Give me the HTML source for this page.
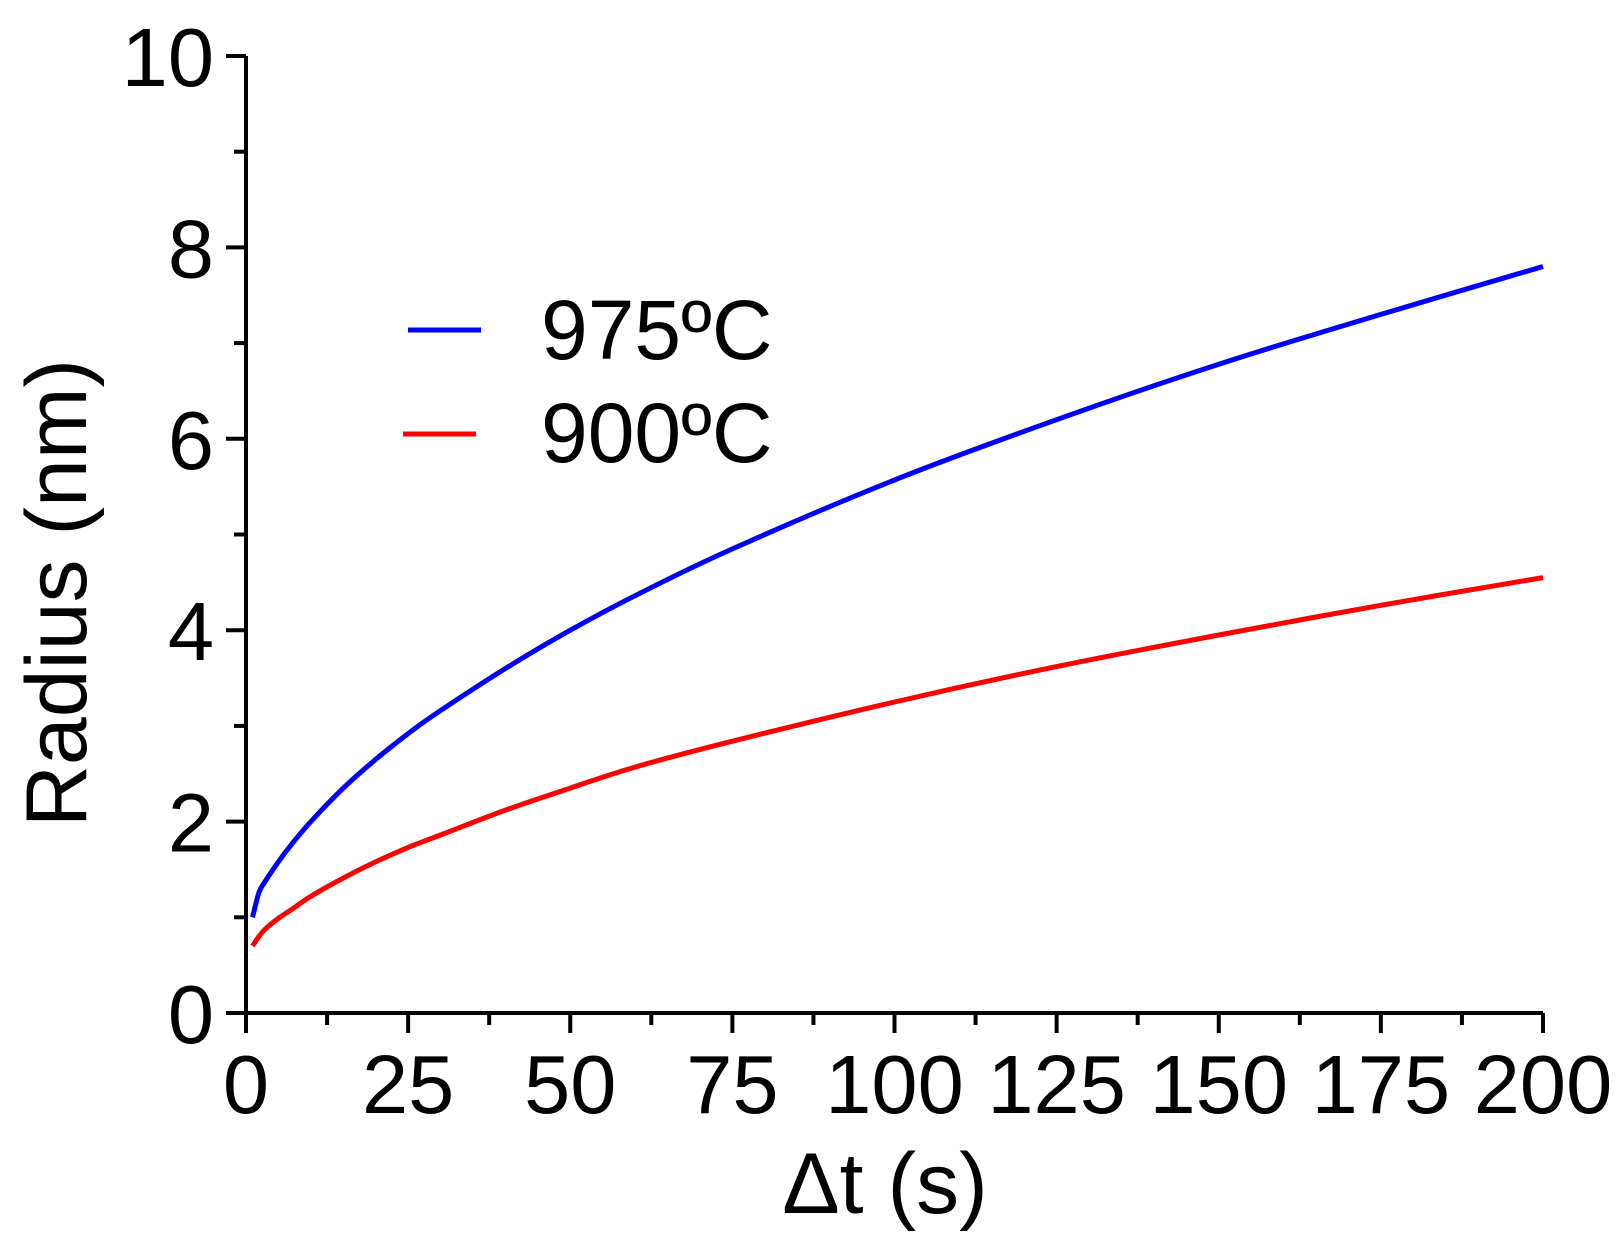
<!DOCTYPE html>
<html><head><meta charset="utf-8"><style>
html,body{margin:0;padding:0;background:#fff}
text{font-family:"Liberation Sans",Arial,sans-serif;fill:#000}
</style></head><body>
<svg id="chart" width="1621" height="1235" viewBox="0 0 1621 1235" xmlns="http://www.w3.org/2000/svg">
<g id="axes"></g>
<g id="series"></g>
<g id="legend">
<line x1="408" y1="330" x2="481" y2="330" stroke="#0000ff" stroke-width="5"/>
<text x="541" y="359" font-size="84">975ºC</text>
<line x1="403" y1="434" x2="476" y2="434" stroke="#ff0000" stroke-width="5"/>
<text x="541" y="462" font-size="84">900ºC</text>
</g>
<text x="885" y="1213" font-size="86" text-anchor="middle">Δt (s)</text>
<text transform="translate(86,593) rotate(-90)" font-size="86" text-anchor="middle">Radius (nm)</text>
</svg>
<script>
const times = [1,2,3,5,7,10,15,20,25,30,40,50,60,75,100,125,150,175,200];
const blue975 = [1.0,1.26,1.38,1.58,1.76,2.0,2.35,2.65,2.92,3.16,3.6,4.0,4.36,4.85,5.57,6.2,6.78,7.3,7.8];
const red900 = [0.7,0.8,0.88,0.99,1.08,1.22,1.41,1.58,1.73,1.86,2.12,2.35,2.57,2.84,3.25,3.62,3.95,4.26,4.55];
const xTicks = [0,25,50,75,100,125,150,175,200];
const yTicks = [0,2,4,6,8,10];

const X0=246,X1=1543,Y0=1013,Y1=56;
const xs=t=>X0+(t-0)/(200-0)*(X1-X0);
const ys=v=>Y0-(v-0)/(10-0)*(Y0-Y1);
const NS="http://www.w3.org/2000/svg";
function mk(tag,attrs,parent){const e=document.createElementNS(NS,tag);for(const k in attrs)e.setAttribute(k,attrs[k]);parent.appendChild(e);return e;}
const axes=document.getElementById('axes');
let p=mk('path',{d:`M${X0} ${Y1} L${X0} ${Y0} L${X1} ${Y0}`,fill:'none',stroke:'#000','stroke-width':4},axes);


for(let i=0;i<xTicks.length;i++){
  const x=xs(xTicks[i]);
  let l=mk('line',{x1:x,y1:Y0,x2:x,y2:Y0+20,stroke:'#000','stroke-width':4},axes);
  
  
  let t=mk('text',{x:x,y:1113,'font-size':83,'text-anchor':'middle'},axes);
  t.textContent=xTicks[i];
  
  
  if(i<xTicks.length-1){
    const xm=xs(xTicks[i]+12.5);
    let m=mk('line',{x1:xm,y1:Y0,x2:xm,y2:Y0+12,stroke:'#000','stroke-width':4},axes);
    
    
  }
}
for(let i=0;i<yTicks.length;i++){
  const y=ys(yTicks[i]);
  let l=mk('line',{x1:X0-20,y1:y,x2:X0,y2:y,stroke:'#000','stroke-width':4},axes);
  
  
  let t=mk('text',{x:214,y:y+30,'font-size':83,'text-anchor':'end'},axes);
  t.textContent=yTicks[i];
  
  
  if(i<yTicks.length-1){
    const ym=ys(yTicks[i]+1);
    let m=mk('line',{x1:X0-12,y1:ym,x2:X0,y2:ym,stroke:'#000','stroke-width':4},axes);
    
    
  }
}
const series=document.getElementById('series');
function line(vals,color,name){
  const P=times.map((t,i)=>[xs(t),ys(vals[i])]);
  let d='M'+P[0][0].toFixed(1)+' '+P[0][1].toFixed(1);
  for(let i=0;i<P.length-1;i++){
    const p0=P[Math.max(0,i-1)],p1=P[i],p2=P[i+1],p3=P[Math.min(P.length-1,i+2)];
    const c1=[p1[0]+(p2[0]-p0[0])/6,p1[1]+(p2[1]-p0[1])/6];
    const c2=[p2[0]-(p3[0]-p1[0])/6,p2[1]-(p3[1]-p1[1])/6];
    d+=` C${c1[0].toFixed(1)} ${c1[1].toFixed(1)} ${c2[0].toFixed(1)} ${c2[1].toFixed(1)} ${p2[0].toFixed(1)} ${p2[1].toFixed(1)}`;
  }
  let e=mk('path',{d:d,fill:'none',stroke:color,'stroke-width':5,'stroke-linejoin':'round'},series);
  
  
}
line(blue975,'#0000ff','line-975c');
line(red900,'#ff0000','line-900c');
</script>
</body></html>
